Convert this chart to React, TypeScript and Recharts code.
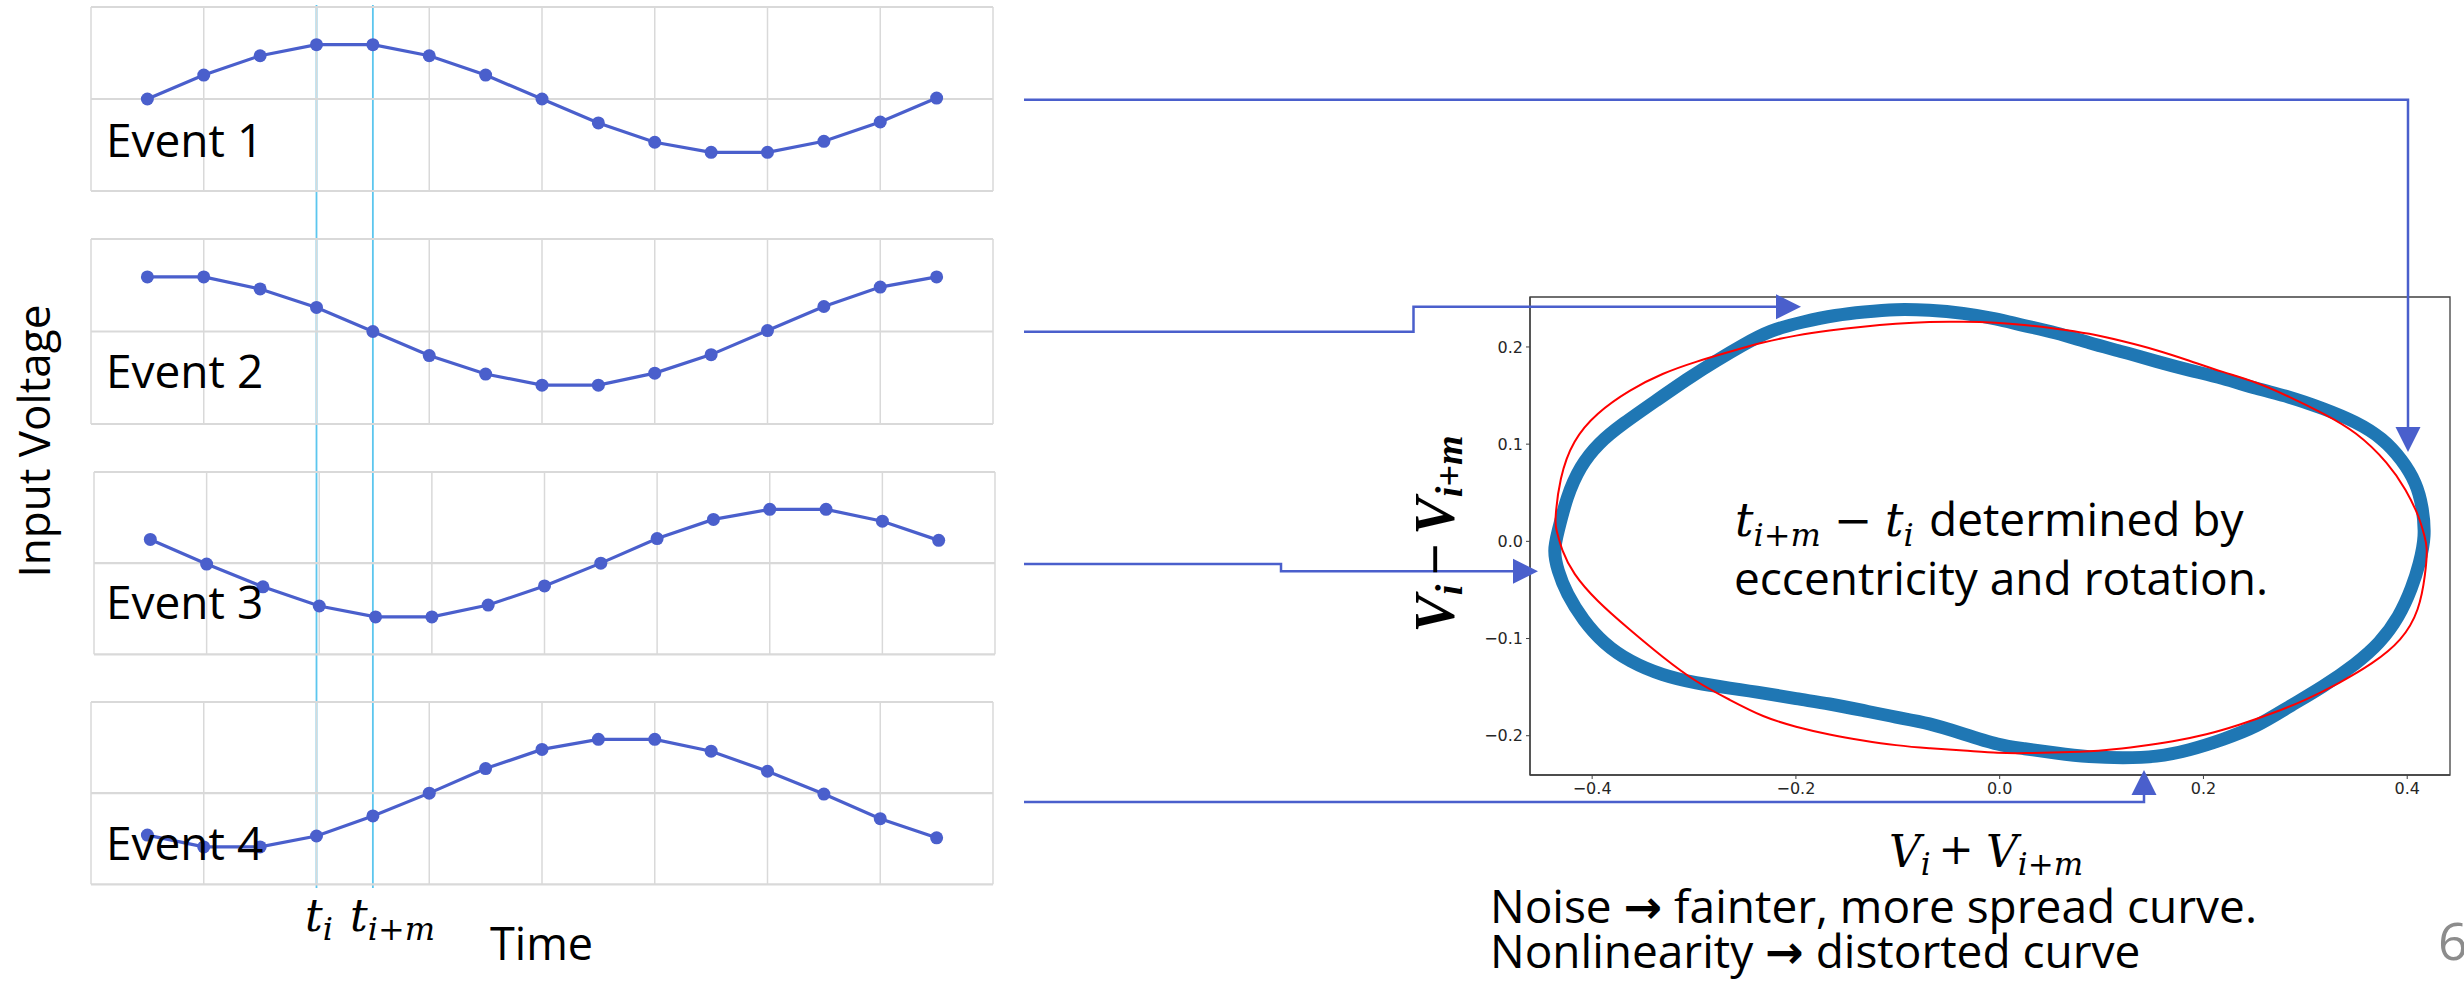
import React from "react";
import {
  LineChart,
  Line,
  XAxis,
  YAxis,
  ReferenceLine,
  ReferenceArea,
  ComposedChart,
} from "recharts";

// ---------------- data: left panels ----------------
const TIME_STEPS = [1, 2, 3, 4, 5, 6, 7, 8, 9, 10, 11, 12, 13, 14, 15];
const EVENT_1 = [0, 0.26, 0.47, 0.59, 0.59, 0.47, 0.26, 0, -0.26, -0.47, -0.58, -0.58, -0.46, -0.25, 0.01];
const EVENT_2 = [0.59, 0.59, 0.46, 0.26, 0, -0.26, -0.46, -0.58, -0.58, -0.45, -0.25, 0.01, 0.27, 0.48, 0.59];
const EVENT_3 = [0.26, -0.01, -0.26, -0.47, -0.59, -0.59, -0.46, -0.25, 0, 0.27, 0.48, 0.59, 0.59, 0.46, 0.25];
const EVENT_4 = [-0.46, -0.59, -0.59, -0.47, -0.25, 0, 0.27, 0.48, 0.59, 0.59, 0.46, 0.24, -0.01, -0.28, -0.49];
const EVENT_LABELS = ["Event 1", "Event 2", "Event 3", "Event 4"];
const GRID_X = [0, 2, 4, 6, 8, 10, 12, 14, 16];
const GRID_Y = [-1, 0, 1];
const T_MARKS = [4, 5];

// ---------------- data: right scatter ----------------
const LOOP_X = [-0.438, -0.434, -0.425, -0.412, -0.394, -0.37, -0.337, -0.304, -0.278, -0.252, -0.226, -0.193, -0.16, -0.134, -0.102, -0.069, -0.036, -0.003, 0.023, 0.055, 0.088, 0.121, 0.154, 0.186, 0.219, 0.252, 0.284, 0.317, 0.35, 0.376, 0.395, 0.409, 0.415, 0.418, 0.412, 0.405, 0.392, 0.373, 0.35, 0.317, 0.284, 0.252, 0.219, 0.186, 0.154, 0.121, 0.088, 0.055, 0.023, 0.0, -0.036, -0.069, -0.102, -0.134, -0.167, -0.2, -0.232, -0.265, -0.298, -0.331, -0.363, -0.389, -0.409, -0.425, -0.434];
const LOOP_Y = [-0.009, 0.008, 0.046, 0.077, 0.101, 0.121, 0.145, 0.169, 0.186, 0.202, 0.217, 0.226, 0.233, 0.236, 0.239, 0.238, 0.235, 0.229, 0.222, 0.215, 0.204, 0.195, 0.185, 0.176, 0.168, 0.157, 0.149, 0.137, 0.123, 0.106, 0.084, 0.06, 0.036, 0.005, -0.023, -0.047, -0.078, -0.105, -0.126, -0.15, -0.17, -0.191, -0.204, -0.215, -0.222, -0.223, -0.222, -0.218, -0.213, -0.21, -0.198, -0.187, -0.181, -0.174, -0.167, -0.162, -0.156, -0.151, -0.146, -0.138, -0.124, -0.105, -0.081, -0.054, -0.03];
const FIT_X = [-0.437, -0.432, -0.419, -0.396, -0.363, -0.331, -0.298, -0.265, -0.232, -0.2, -0.167, -0.134, -0.102, -0.069, -0.036, -0.003, 0.023, 0.055, 0.088, 0.121, 0.154, 0.186, 0.219, 0.252, 0.284, 0.317, 0.35, 0.382, 0.399, 0.412, 0.417, 0.42, 0.418, 0.412, 0.395, 0.366, 0.333, 0.301, 0.268, 0.235, 0.203, 0.17, 0.137, 0.105, 0.072, 0.023, 0.0, -0.036, -0.069, -0.102, -0.134, -0.167, -0.2, -0.232, -0.265, -0.298, -0.331, -0.363, -0.396, -0.419, -0.43, -0.435];
const FIT_Y = [0.018, 0.066, 0.104, 0.132, 0.156, 0.173, 0.185, 0.195, 0.205, 0.212, 0.217, 0.221, 0.224, 0.226, 0.226, 0.225, 0.223, 0.219, 0.214, 0.206, 0.197, 0.186, 0.174, 0.164, 0.149, 0.132, 0.113, 0.08, 0.053, 0.025, 0.005, -0.006, -0.033, -0.071, -0.102, -0.126, -0.146, -0.163, -0.177, -0.189, -0.199, -0.206, -0.211, -0.215, -0.217, -0.218, -0.218, -0.215, -0.213, -0.21, -0.205, -0.199, -0.191, -0.181, -0.163, -0.145, -0.119, -0.091, -0.061, -0.033, -0.009, 0.012];
const X_TICKS = [-0.4, -0.2, 0, 0.2, 0.4];
const Y_TICKS = [-0.2, -0.1, 0, 0.1, 0.2];
const X_DOMAIN: [number, number] = [-0.461, 0.442];
const Y_DOMAIN: [number, number] = [-0.2404, 0.2514];

// ---------------- styles / layout ----------------
const BLUE = "#4a5fcc";
const CYAN = "#5cc6ee";
const GRID = "#d9d9d9";
const SANS = "'Open Sans', 'Noto Sans', sans-serif";
const MATH = "'DejaVu Serif', serif";
const PAD = 2;
const PANELS = [
  { values: EVENT_1, left: 91, top: 6.7, width: 902, height: 184, labelY: 157 },
  { values: EVENT_2, left: 91, top: 239, width: 902, height: 185, labelY: 388 },
  { values: EVENT_3, left: 94, top: 471.7, width: 901, height: 182.3, labelY: 619 },
  { values: EVENT_4, left: 91, top: 701.7, width: 902, height: 182.3, labelY: 860 },
];

const fmt = (v: number) => (v < 0 ? "\u2212" : "") + Math.abs(v).toFixed(1);

function EventPanel({ p }: { p: (typeof PANELS)[number] }) {
  const data = TIME_STEPS.map((t, i) => ({ t, v: p.values[i] }));
  return (
    <div style={{ position: "absolute", left: p.left - PAD, top: p.top - PAD }}>
      <LineChart
        width={p.width + 2 * PAD}
        height={p.height + 2 * PAD}
        data={data}
        margin={{ top: PAD, right: PAD, bottom: PAD, left: PAD }}
      >
        <XAxis type="number" dataKey="t" domain={[0, 16]} hide />
        <YAxis type="number" domain={[-1, 1]} hide />
        {GRID_X.map((x) => (
          <ReferenceLine key={"gx" + x} x={x} stroke={GRID} strokeWidth={1.5} />
        ))}
        {GRID_Y.map((y) => (
          <ReferenceLine key={"gy" + y} y={y} stroke={GRID} strokeWidth={2.2} />
        ))}
        <Line
          dataKey="v"
          type="linear"
          stroke={BLUE}
          strokeWidth={3.2}
          dot={{ r: 6.5, fill: BLUE, stroke: BLUE, strokeWidth: 0 }}
          activeDot={false}
          isAnimationActive={false}
        />
      </LineChart>
    </div>
  );
}

function Arrow({ pts, tip, dir, w }: { pts: number[][]; tip: number[]; dir: string; w: number }) {
  const [tx, ty] = tip;
  const L = 25;
  const H = 12.5;
  let tri = "";
  if (dir === "right") tri = `${tx},${ty} ${tx - L},${ty - H} ${tx - L},${ty + H}`;
  if (dir === "down") tri = `${tx},${ty} ${tx - H},${ty - L} ${tx + H},${ty - L}`;
  if (dir === "up") tri = `${tx},${ty} ${tx - H},${ty + L} ${tx + H},${ty + L}`;
  return (
    <g>
      <polyline points={pts.map((q) => q.join(",")).join(" ")} fill="none" stroke={BLUE} strokeWidth={w} />
      <polygon points={tri} fill={BLUE} />
    </g>
  );
}

export default function App() {
  const loopData = LOOP_X.map((x, i) => ({ x, y: LOOP_Y[i] }));
  const fitData = FIT_X.map((x, i) => ({ x, y: FIT_Y[i] }));
  const p0 = PANELS[0];
  const tx = (t: number) => p0.left + (t * p0.width) / 16;
  const tick = { fontSize: 16, fill: "#262626", fontFamily: "'DejaVu Sans', sans-serif" };

  return (
    <div
      style={{
        position: "absolute",
        left: 0,
        top: 0,
        width: 2464,
        height: 987,
        background: "#ffffff",
        overflow: "hidden",
      }}
    >
      {/* underlay: time markers */}
      <svg width={2464} height={987} style={{ position: "absolute", left: 0, top: 0 }}>
        {T_MARKS.map((t) => (
          <line key={t} x1={tx(t)} x2={tx(t)} y1={5} y2={888} stroke={CYAN} strokeWidth={1.8} />
        ))}
      </svg>

      {PANELS.map((p, i) => (
        <EventPanel key={i} p={p} />
      ))}

      {/* scatter */}
      <div style={{ position: "absolute", left: 1440, top: 286 }}>
        <ComposedChart width={1020} height={540} margin={{ top: 11, right: 10, bottom: 21, left: 30 }}>
          <XAxis
            type="number"
            dataKey="x"
            domain={X_DOMAIN}
            ticks={X_TICKS}
            allowDataOverflow
            tickFormatter={fmt}
            tick={tick}
            tickSize={4}
            tickMargin={4}
            height={30}
            axisLine={{ stroke: "#404040", strokeWidth: 1.3 }}
            tickLine={{ stroke: "#404040", strokeWidth: 1 }}
          />
          <YAxis
            type="number"
            dataKey="y"
            domain={Y_DOMAIN}
            ticks={Y_TICKS}
            allowDataOverflow
            tickFormatter={fmt}
            tick={tick}
            tickSize={4}
            tickMargin={3}
            width={60}
            axisLine={{ stroke: "#404040", strokeWidth: 1.3 }}
            tickLine={{ stroke: "#404040", strokeWidth: 1 }}
          />
          <ReferenceArea
            x1={X_DOMAIN[0]}
            x2={X_DOMAIN[1]}
            y1={Y_DOMAIN[0]}
            y2={Y_DOMAIN[1]}
            fill="none"
            fillOpacity={0}
            stroke="#404040"
            strokeWidth={1.3}
          />
          <Line
            data={loopData}
            dataKey="y"
            type="basisClosed"
            stroke="#1f77b4"
            strokeWidth={13}
            strokeLinejoin="round"
            dot={false}
            activeDot={false}
            isAnimationActive={false}
          />
          <Line
            data={fitData}
            dataKey="y"
            type="basisClosed"
            stroke="#ff0000"
            strokeWidth={2}
            dot={false}
            activeDot={false}
            isAnimationActive={false}
          />
        </ComposedChart>
      </div>

      {/* overlay: annotations */}
      <svg width={2464} height={987} style={{ position: "absolute", left: 0, top: 0, pointerEvents: "none" }}>
        {PANELS.map((p, i) => (
          <text key={i} x={106} y={p.labelY} fontSize={46} fontFamily={SANS} fill="#000">
            {EVENT_LABELS[i]}
          </text>
        ))}
        <text
          x={50}
          y={441}
          transform="rotate(-90 50 441)"
          textAnchor="middle"
          fontSize={44}
          fontFamily={SANS}
          fill="#000"
        >
          Input Voltage
        </text>

        <text x={305} y={931} fontFamily={MATH} fontStyle="italic" fill="#000">
          <tspan fontSize={44}>t</tspan>
          <tspan fontSize={32} dy={9}>i</tspan>
        </text>
        <text x={350} y={931} fontFamily={MATH} fontStyle="italic" fill="#000">
          <tspan fontSize={44}>t</tspan>
          <tspan fontSize={32} dy={9}>i+m</tspan>
        </text>
        <text x={490} y={960} fontSize={45} fontFamily={SANS} fill="#000">
          Time
        </text>

        {/* connectors */}
        <Arrow pts={[[1024, 99.7], [2408, 99.7], [2408, 428]]} tip={[2408, 452]} dir="down" w={2.5} />
        <Arrow pts={[[1024, 331.7], [1413.5, 331.7], [1413.5, 306.7], [1777, 306.7]]} tip={[1801, 306.7]} dir="right" w={2.5} />
        <Arrow pts={[[1024, 564], [1281, 564], [1281, 571.3], [1514, 571.3]]} tip={[1538, 571.3]} dir="right" w={2.5} />
        <Arrow pts={[[1024, 802], [2144, 802], [2144, 793]]} tip={[2144, 770]} dir="up" w={2.5} />

        {/* scatter annotations */}
        <text x={1735} y={536} fontFamily={MATH} fontStyle="italic" fill="#000">
          <tspan fontSize={46}>t</tspan>
          <tspan fontSize={32} dy={10}>i+m</tspan>
        </text>
        <text x={1853} y={536} textAnchor="middle" fontFamily={MATH} fontSize={46} fill="#000">
          {"\u2212"}
        </text>
        <text x={1885} y={536} fontFamily={MATH} fontStyle="italic" fill="#000">
          <tspan fontSize={46}>t</tspan>
          <tspan fontSize={32} dy={10}>i</tspan>
        </text>
        <text x={1929} y={536} fontSize={46} fontFamily={SANS} fill="#000">
          determined by
        </text>
        <text x={1734} y={595} fontSize={46} fontFamily={SANS} fill="#000">
          eccentricity and rotation.
        </text>

        <text
          x={1454}
          y={534}
          transform="rotate(-90 1454 534)"
          textAnchor="middle"
          fontFamily="'Liberation Serif', serif"
          fontWeight="bold"
          fontStyle="italic"
          fill="#000"
        >
          <tspan fontSize={56}>V</tspan>
          <tspan fontSize={38} dy={8}>i</tspan>
          <tspan fontSize={56} dy={-8} dx={8}>{"\u2212"}</tspan>
          <tspan fontSize={56} dx={8}>V</tspan>
          <tspan fontSize={38} dy={8}>i+m</tspan>
        </text>

        <text x={1889} y={867} fontFamily={MATH} fontStyle="italic" fill="#000">
          <tspan fontSize={44}>V</tspan>
          <tspan fontSize={31} dy={8}>i</tspan>
        </text>
        <text x={1956} y={864} textAnchor="middle" fontFamily={MATH} fontSize={42} fill="#000">
          +
        </text>
        <text x={1986} y={867} fontFamily={MATH} fontStyle="italic" fill="#000">
          <tspan fontSize={44}>V</tspan>
          <tspan fontSize={31} dy={8}>i+m</tspan>
        </text>

        <text x={1490} y={923} fontSize={46} fontFamily={SANS} fill="#000">
          {"Noise "}
          <tspan fontFamily="'DejaVu Sans', sans-serif" fontWeight="bold">{"\u2192"}</tspan>
          {" fainter, more spread curve."}
        </text>
        <text x={1490} y={968} fontSize={46} fontFamily={SANS} fill="#000">
          {"Nonlinearity "}
          <tspan fontFamily="'DejaVu Sans', sans-serif" fontWeight="bold">{"\u2192"}</tspan>
          {" distorted curve"}
        </text>
        <text x={2438} y={960} fontSize={52} fontFamily={SANS} fill="#8c8c8c">
          6
        </text>
      </svg>
    </div>
  );
}
